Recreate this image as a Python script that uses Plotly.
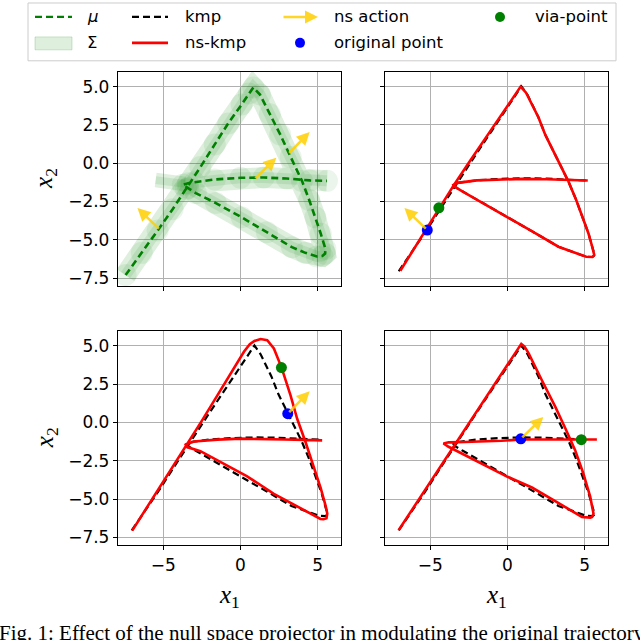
'''
    Null space KMP figure: demonstrations (mu / Sigma) and three via-point adaptations.
'''
import plotly.graph_objects as go
from plotly.subplots import make_subplots

# GMR mean of the demonstrations (top-left panel)
mu_x = [-7.45, -6.4, -5.37, -4.4, -3.52, -2.6, -1.67, -0.8, 0.07, 0.55, 0.83, 1.26, 1.9, 2.57, 3.25,
        3.98, 4.45, 4.85, 5.2, 5.5, 5.48, 5.3, 4.95, 4.2, 3.33, 1.7, 0.07, -1.6, -2.9, -3.4,
        -3.74, -3.4, -2.98, -1.67, 0.0, 1.5, 3.0, 4.5, 5.6]
mu_y = [-7.3, -5.85, -4.39, -3.0, -1.69, -0.25, 1.23, 2.6, 3.83, 4.55, 4.95, 4.48, 3.2, 1.88, 0.4,
        -1.15, -2.4, -3.53, -4.6, -5.59, -5.9, -6.05, -6.08, -5.85, -5.48, -4.5, -3.53, -2.6, -1.95, -1.62,
        -1.41, -1.3, -1.24, -1.06, -0.95, -0.93, -1.0, -1.12, -1.15]
# extra spread of the covariance to the left of the crossing
sig_tail_x = [-5.5, -4.6, -3.6]
sig_tail_y = [-1.1, -1.2, -1.35]

# kmp trajectory (black dashed)
kmp_x = [-7.05, -6.2, -5.2, -4.4, -3.6, -3.0, -2.0, -1.0, 0.0, 0.55, 0.9, 1.3, 2.0, 2.45, 3.07,
         3.95, 4.45, 4.9, 5.25, 5.5, 5.65, 5.5, 5.1, 4.6, 3.3, 1.6, 0.0, -1.6, -2.9, -3.4,
         -3.5, -3.25, -2.0, -0.5, 1.0, 2.5, 4.0, 5.3]
kmp_y = [-7.05, -5.8, -4.3, -3.05, -1.8, -0.85, 0.65, 2.15, 3.7, 4.55, 5.02, 4.45, 3.0, 1.85, 0.57,
         -1.2, -2.4, -3.6, -4.6, -5.5, -6.0, -6.12, -6.1, -5.92, -5.45, -4.45, -3.5, -2.6, -1.85, -1.55,
         -1.42, -1.28, -1.12, -1.02, -0.98, -1.0, -1.08, -1.13]

# ns-kmp trajectories (red), one per adaptation
nsa_x = [-6.95, -6.2, -5.3, -4.45, -3.8, -3.45, -2.5, -1.2, 0.0, 0.55, 0.85, 1.2, 2.0, 2.45, 3.07,
         3.95, 4.45, 4.9, 5.25, 5.5, 5.62, 5.5, 5.1, 4.6, 3.3, 1.6, 0.0, -1.6, -2.9, -3.4,
         -3.5, -3.25, -2.0, -0.5, 1.0, 2.5, 4.0, 5.2]
nsa_y = [-7.02, -5.8, -4.35, -2.93, -1.88, -1.38, 0.05, 2.0, 3.78, 4.6, 5.0, 4.6, 3.0, 1.85, 0.57,
         -1.2, -2.4, -3.6, -4.6, -5.5, -6.0, -6.12, -6.1, -5.92, -5.45, -4.45, -3.5, -2.6, -1.85, -1.55,
         -1.42, -1.28, -1.12, -1.05, -1.02, -1.05, -1.1, -1.13]

nsb_x = [-7.02, -6.2, -5.3, -4.4, -3.46, -2.5, -1.51, -0.6, 0.22, 0.6, 0.9, 1.3, 1.73, 2.16, 2.66,
         3.24, 3.67, 4.21, 4.86, 5.2, 5.51, 5.62, 5.57, 5.38, 5.18, 4.3, 2.16, 0.4, -1.3, -2.6,
         -3.46, -3.55, -3.02, -1.5, 0.0, 1.5, 2.81, 4.2, 5.29]
nsb_y = [-7.06, -5.77, -4.36, -2.94, -1.46, 0.12, 1.75, 3.26, 4.61, 5.1, 5.32, 5.44, 5.37, 4.83, 3.58,
         1.77, 0.24, -1.28, -3.25, -4.3, -5.43, -5.95, -6.26, -6.32, -6.3, -5.82, -4.66, -3.5, -2.58, -1.88,
         -1.61, -1.45, -1.24, -1.12, -1.06, -1.07, -1.11, -1.14, -1.17]

nsc_x = [-7.06, -6.2, -5.3, -4.4, -3.5, -2.5, -1.5, -0.5, 0.3, 0.7, 0.89, 1.1, 1.36, 2.2, 3.09,
         3.75, 4.38, 4.9, 5.36, 5.57, 5.48, 5.36, 4.82, 3.2, 1.58, 0.0, -1.66, -2.8, -3.82, -4.15,
         -3.82, -2.8, -1.66, -0.4, 0.89, 2.2, 3.5, 4.82, 5.79]
nsc_y = [-7.04, -5.72, -4.35, -2.97, -1.59, -0.06, 1.47, 3.0, 4.23, 4.8, 5.13, 4.95, 4.52, 2.8, 1.03,
         -0.4, -1.81, -3.3, -4.86, -5.95, -6.17, -6.21, -6.17, -5.2, -4.25, -3.55, -2.7, -2.13, -1.59, -1.37,
         -1.3, -1.28, -1.26, -1.2, -1.11, -1.12, -1.14, -1.15, -1.11]

# original points, via-points and null space actions (arrow tips) of the three cases
orig_x = [-5.2, 3.06, 0.86]
orig_y = [-4.36, 0.57, -1.07]
via_x = [-4.45, 2.65, 4.78]
via_y = [-2.91, 3.58, -1.13]
act_x = [-6.68, 4.48, 2.32]
act_y = [-2.92, 2.04, 0.36]

x_ticks = [-5, 0, 5]
x_ticktext = ['−5', '0', '5']
y_ticks = [-7.5, -5, -2.5, 0, 2.5, 5]
y_ticktext = ['−7.5', '−5.0', '−2.5', '0.0', '2.5', '5.0']

legend_row1 = ['<i>μ</i>', 'kmp', 'ns action', 'via-point']
legend_row2 = ['Σ', 'ns-kmp', 'original point']
caption = 'Fig. 1: Effect of the null space projector in modulating the original trajectory'

W = 640
GREEN = '#008000'
GOLD = 'rgba(255,208,0,0.85)'
TICK_FONT = dict(family='DejaVu Sans', size=17, color='black')
LEG_FONT = dict(family='DejaVu Sans', size=16.5, color='black')


def px(v):
    return v / W


def py(v):
    return 1 - v / W


def add_arrow(fig, i, axes):
    xr, yr = axes
    fig.add_annotation(
        x=act_x[i], y=act_y[i], ax=orig_x[i], ay=orig_y[i],
        xref=xr, yref=yr, axref=xr, ayref=yr,
        showarrow=True, arrowhead=2, arrowsize=1.0, arrowwidth=2.6,
        arrowcolor=GOLD, standoff=0, startstandoff=0, text='',
    )


def add_points(fig, i, row, col):
    fig.add_trace(go.Scatter(x=[orig_x[i]], y=[orig_y[i]], mode='markers',
                             marker=dict(color='blue', size=11), showlegend=False),
                  row=row, col=col)
    fig.add_trace(go.Scatter(x=[via_x[i]], y=[via_y[i]], mode='markers',
                             marker=dict(color=GREEN, size=11), showlegend=False),
                  row=row, col=col)


def add_kmp_panel(fig, xs, ys, i, row, col, axes):
    fig.add_trace(go.Scatter(x=kmp_x, y=kmp_y, mode='lines',
                             line=dict(color='black', width=2.2, dash='7px,4px'),
                             showlegend=False), row=row, col=col)
    fig.add_trace(go.Scatter(x=xs, y=ys, mode='lines',
                             line=dict(color='red', width=2.6), showlegend=False),
                  row=row, col=col)
    add_points(fig, i, row, col)
    add_arrow(fig, i, axes)


def add_text(fig, x, y, text, font, **kw):
    kw.setdefault('xanchor', 'left')
    kw.setdefault('yanchor', 'middle')
    fig.add_annotation(x=px(x), y=py(y), xref='paper', yref='paper', showarrow=False,
                       text=text, font=font, **kw)


fig = make_subplots(rows=2, cols=2)

# top-left: demonstrations
for w, c in [(21, 'rgba(0,128,0,0.13)'), (11, 'rgba(0,128,0,0.10)')]:
    fig.add_trace(go.Scatter(x=mu_x, y=mu_y, mode='lines', line=dict(color=c, width=w),
                             showlegend=False), row=1, col=1)
    fig.add_trace(go.Scatter(x=sig_tail_x, y=sig_tail_y, mode='lines', line=dict(color=c, width=w * 0.7),
                             showlegend=False), row=1, col=1)
fig.add_trace(go.Scatter(x=mu_x, y=mu_y, mode='markers',
                         marker=dict(color='rgba(0,128,0,0.08)', size=22, line=dict(width=0)),
                         showlegend=False), row=1, col=1)
fig.add_trace(go.Scatter(x=mu_x, y=mu_y, mode='lines',
                         line=dict(color=GREEN, width=2.6, dash='7px,4px'), showlegend=False),
              row=1, col=1)
for i in range(3):
    add_arrow(fig, i, ('x', 'y'))

add_kmp_panel(fig, nsa_x, nsa_y, 0, 1, 2, ('x2', 'y2'))
add_kmp_panel(fig, nsb_x, nsb_y, 1, 2, 1, ('x3', 'y3'))
add_kmp_panel(fig, nsc_x, nsc_y, 2, 2, 2, ('x4', 'y4'))

axis_common = dict(
    showgrid=True, gridcolor='#b0b0b0', gridwidth=1, zeroline=False,
    showline=True, mirror=True, linecolor='black', linewidth=1.3,
    ticks='outside', ticklen=4, tickwidth=1.1, tickcolor='black',
    tickfont=TICK_FONT,
)
x_dom = [[px(118), px(341)], [px(385), px(608)]]
y_dom = [[py(287), py(72)], [py(547), py(332)]]
for n in range(4):
    r, c = divmod(n, 2)
    suffix = '' if n == 0 else str(n + 1)
    fig.layout['xaxis' + suffix].update(
        axis_common, domain=x_dom[c], range=[-7.94, 6.51],
        tickvals=x_ticks, ticktext=x_ticktext, showticklabels=(r == 1))
    fig.layout['yaxis' + suffix].update(
        axis_common, domain=y_dom[r], range=[-8.02, 5.97],
        tickvals=y_ticks, ticktext=y_ticktext, showticklabels=(c == 0))

# axis titles
AX_FONT = dict(family='Liberation Serif', size=25, color='black')
for cx in [229.5, 496.5]:
    add_text(fig, cx, 598, '<i>x</i><sub>1</sub>', AX_FONT, xanchor='center')
for cy in [179.5, 439.5]:
    add_text(fig, 46, cy, '<i>x</i><sub>2</sub>', AX_FONT, xanchor='center', textangle=-90)

# legend drawn in paper space
shapes = [
    dict(type='rect', x0=px(28), x1=px(616), y0=py(61), y1=py(3),
         line=dict(color='#cccccc', width=1)),
    dict(type='line', x0=px(35), x1=px(72), y0=py(17), y1=py(17),
         line=dict(color=GREEN, width=2.2, dash='7px,4px')),
    dict(type='rect', x0=px(35), x1=px(72), y0=py(50), y1=py(37),
         fillcolor='rgba(0,128,0,0.13)', line=dict(color='rgba(0,128,0,0.18)', width=1)),
    dict(type='line', x0=px(132), x1=px(168), y0=py(17), y1=py(17),
         line=dict(color='black', width=2.2, dash='7px,4px')),
    dict(type='line', x0=px(132), x1=px(168), y0=py(43), y1=py(43),
         line=dict(color='red', width=2.6)),
]
for cx, cy, col in [(300, 43, 'blue'), (500, 17, GREEN)]:
    shapes.append(dict(type='circle', xsizemode='pixel', ysizemode='pixel',
                       xanchor=px(cx), yanchor=py(cy), x0=-5, x1=5, y0=-5, y1=5,
                       fillcolor=col, line=dict(width=0)))
for s in shapes:
    s['xref'] = 'paper'
    s['yref'] = 'paper'
fig.update_layout(shapes=shapes)

fig.add_annotation(x=px(318), y=py(17), ax=-36, ay=0, xref='paper', yref='paper',
                   showarrow=True, arrowhead=2, arrowsize=1.0, arrowwidth=2.6,
                   arrowcolor=GOLD, text='')
for txt, lx in zip(legend_row1, [85, 183, 332, 533]):
    add_text(fig, lx, 17, txt, LEG_FONT)
for txt, lx in zip(legend_row2, [85, 183, 332]):
    add_text(fig, lx, 43, txt, LEG_FONT)

add_text(fig, -3, 621, caption, dict(family='Liberation Serif', size=21, color='black'),
         yanchor='top')

fig.update_layout(
    width=W, height=W,
    margin=dict(l=0, r=0, t=0, b=0),
    plot_bgcolor='white', paper_bgcolor='white',
    showlegend=False,
)

# the page body has a default 8px margin; drop it so the figure sits at the window origin
fig.write_html('out.html', config={'displayModeBar': False},
               post_script="document.body.style.margin = '0px';")
